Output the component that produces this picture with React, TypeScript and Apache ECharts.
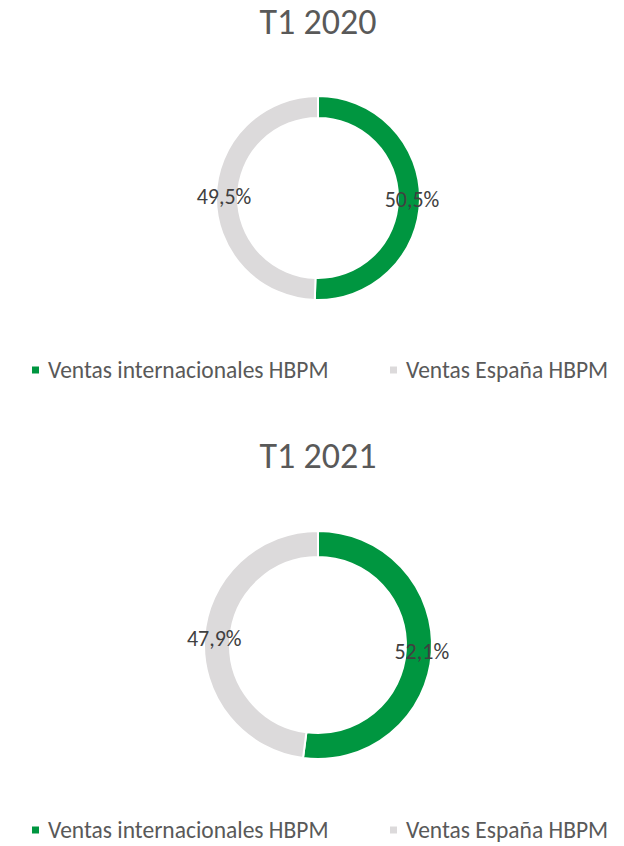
import React, { useEffect, useRef } from "react";
import * as echarts from "echarts";

const categories = ["Ventas internacionales HBPM", "Ventas España HBPM"];
const titles = ["T1 2020", "T1 2021"];
const values2020 = [50.5, 49.5];
const values2021 = [52.1, 47.9];
const colors = ["#009640", "#DCDADB"];

const FONT = "Carlito, Lato, 'Open Sans', sans-serif";

export default function App() {
  const ref = useRef<HTMLDivElement>(null);
  useEffect(() => {
    if (!ref.current) return;
    const chart = echarts.init(ref.current, undefined, { renderer: "svg" });
    const fmt = (p: any) => p.value.toFixed(1).replace(".", ",") + "%";
    const mkSeries = (vals: number[], center: number[], radius: number[]) => ({
      type: "pie",
      center,
      radius,
      startAngle: 90,
      clockwise: true,
      silent: true,
      label: {
        show: true,
        position: "inside",
        formatter: fmt,
        color: "#404040",
        fontSize: 22,
        fontFamily: FONT,
      },
      labelLine: { show: false },
      itemStyle: { borderColor: "#ffffff", borderWidth: 2 },
      data: categories.map((c, i) => ({ name: c, value: vals[i], itemStyle: { color: colors[i] } })),
    });
    const mkLegend = (name: string, left: number, top: number) => ({
      data: [name],
      left,
      top,
      orient: "horizontal",
      icon: "rect",
      itemWidth: 9,
      itemHeight: 9,
      itemGap: 0,
      padding: 0,
      selectedMode: false,
      textStyle: { color: "#595959", fontSize: 23.5, fontFamily: FONT, padding: [0, 0, 0, 3] },
    });
    const mkTitle = (text: string, y: number) => ({
      type: "text",
      x: 318,
      y,
      style: {
        text,
        fontSize: 36,
        fontFamily: FONT,
        fill: "#595959",
        textAlign: "center",
        textVerticalAlign: "middle",
      },
    });
    chart.setOption({
      animation: false,
      backgroundColor: "#ffffff",
      color: colors,
      graphic: [mkTitle(titles[0], 22), mkTitle(titles[1], 456)],
      legend: [
        mkLegend(categories[0], 30, 358),
        mkLegend(categories[1], 388, 358),
        mkLegend(categories[0], 30, 818),
        mkLegend(categories[1], 388, 818),
      ],
      series: [
        mkSeries(values2020, [318, 198], [80, 102]),
        mkSeries(values2021, [318, 645], [88, 114]),
      ],
    });
    return () => chart.dispose();
  }, []);
  return (
    <div
      ref={ref}
      style={{ position: "absolute", left: 0, top: 0, width: 624, height: 846 }}
    />
  );
}
